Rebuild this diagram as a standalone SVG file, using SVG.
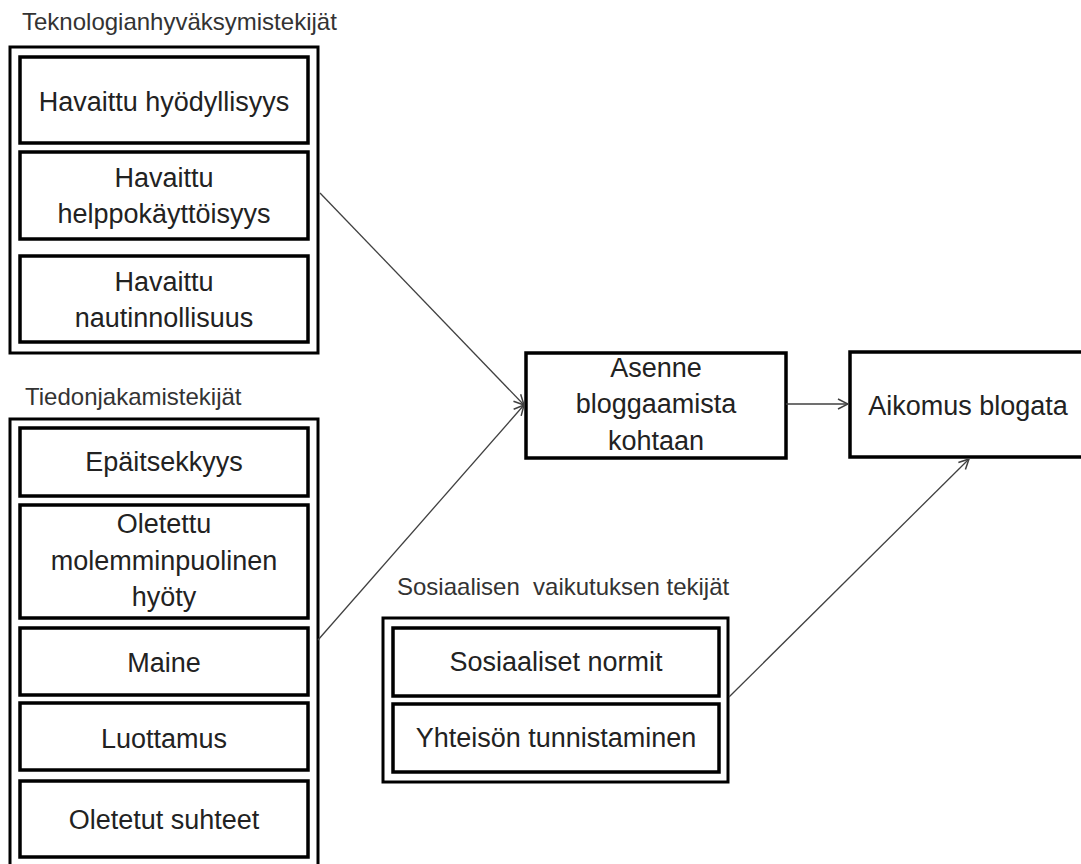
<svg xmlns="http://www.w3.org/2000/svg" width="1081" height="864" viewBox="0 0 1081 864">
<defs>
<style>
.outer{fill:none;stroke:#000;stroke-width:3}
.inner{fill:#fff;stroke:#000;stroke-width:3.5}
.t{font-family:"Liberation Sans",Arial,sans-serif;font-size:27px;fill:#222;text-anchor:middle}
.title{font-family:"Liberation Sans",Arial,sans-serif;font-size:24px;fill:#333}
.conn{fill:none;stroke:#404040;stroke-width:1.3;marker-end:url(#arr)}
</style>
<marker id="arr" viewBox="0 0 12 12" refX="11" refY="6" markerWidth="12" markerHeight="12" markerUnits="userSpaceOnUse" orient="auto">
<path d="M1,1 L11,6 L1,11" fill="none" stroke="#404040" stroke-width="1.5"/>
</marker>
</defs>
<rect width="1081" height="864" fill="#fff"/>

<g id="group-tech">
<text class="title" x="22" y="30">Teknologianhyväksymistekijät</text>
<rect class="outer" x="10" y="47" width="308" height="306"/>
</g>
<g id="node-hyodyllisyys">
<rect class="inner" x="20" y="57" width="288" height="86"/>
<text class="t" x="164" y="111">Havaittu hyödyllisyys</text>
</g>
<g id="node-helppokayttoisyys">
<rect class="inner" x="20" y="152" width="288" height="87"/>
<text class="t" x="164" y="187">Havaittu</text>
<text class="t" x="164" y="223">helppokäyttöisyys</text>
</g>
<g id="node-nautinnollisuus">
<rect class="inner" x="20" y="256" width="288" height="86"/>
<text class="t" x="164" y="291">Havaittu</text>
<text class="t" x="164" y="327">nautinnollisuus</text>
</g>

<g id="group-tiedon">
<text class="title" x="25" y="405">Tiedonjakamistekijät</text>
<rect class="outer" x="10" y="419" width="308" height="460"/>
</g>
<g id="node-epaitsekkyys">
<rect class="inner" x="20" y="428" width="288" height="68"/>
<text class="t" x="164" y="471">Epäitsekkyys</text>
</g>
<g id="node-hyoty">
<rect class="inner" x="20" y="505" width="288" height="113"/>
<text class="t" x="164" y="533">Oletettu</text>
<text class="t" x="164" y="570">molemminpuolinen</text>
<text class="t" x="164" y="606">hyöty</text>
</g>
<g id="node-maine">
<rect class="inner" x="20" y="628" width="288" height="67"/>
<text class="t" x="164" y="672">Maine</text>
</g>
<g id="node-luottamus">
<rect class="inner" x="20" y="703" width="288" height="67"/>
<text class="t" x="164" y="748">Luottamus</text>
</g>
<g id="node-suhteet">
<rect class="inner" x="20" y="781" width="288" height="76"/>
<text class="t" x="164" y="829">Oletetut suhteet</text>
</g>

<g id="group-sosiaalinen">
<text class="title" x="397" y="595" xml:space="preserve">Sosiaalisen  vaikutuksen tekijät</text>
<rect class="outer" x="383" y="618" width="345" height="164"/>
</g>
<g id="node-normit">
<rect class="inner" x="393" y="628" width="326" height="68"/>
<text class="t" x="556" y="671">Sosiaaliset normit</text>
</g>
<g id="node-yhteiso">
<rect class="inner" x="393" y="704" width="326" height="68"/>
<text class="t" x="556" y="747">Yhteisön tunnistaminen</text>
</g>

<g id="node-asenne">
<rect class="inner" x="526" y="353" width="260" height="105"/>
<text class="t" x="656" y="377">Asenne</text>
<text class="t" x="656" y="413">bloggaamista</text>
<text class="t" x="656" y="450">kohtaan</text>
</g>
<g id="node-aikomus">
<rect class="inner" x="850" y="352" width="238" height="105"/>
<text class="t" x="968" y="415">Aikomus blogata</text>
</g>

<g id="connectors">
<line class="conn" x1="320" y1="193" x2="524" y2="405"/>
<line class="conn" x1="318" y1="640" x2="524" y2="405"/>
<line class="conn" x1="786" y1="404" x2="848" y2="404"/>
<line class="conn" x1="729" y1="697" x2="969" y2="459"/>
</g>
</svg>
